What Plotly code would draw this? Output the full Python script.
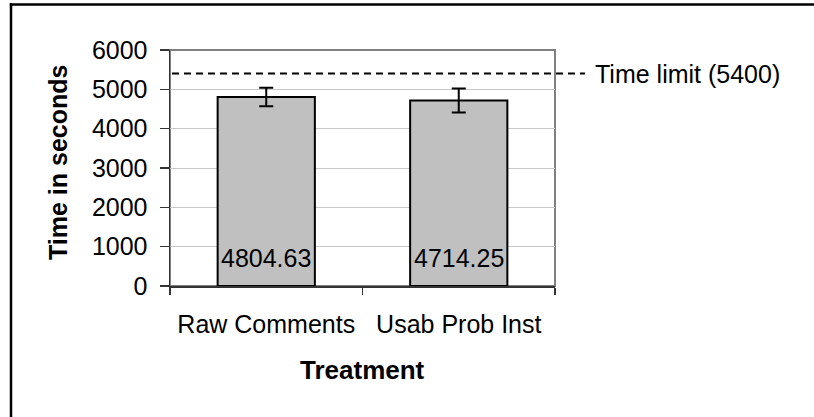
import plotly.graph_objects as go

categories = ["Raw Comments", "Usab Prob Inst"]
mean_times = [4804.63, 4714.25]
error_halfwidth = [235, 305]
bar_labels = ["4804.63", "4714.25"]
time_limit = 5400
time_limit_label = "Time limit (5400)"
y_ticks = [0, 1000, 2000, 3000, 4000, 5000, 6000]

FONT = "Liberation Sans, Arial, Helvetica, sans-serif"
W, H = 814, 417
L, R, T, B = 170, 259, 50, 131
pw, ph = W - L - R, H - T - B

def px_x(p):
    return (p - L) / pw

def px_y(p):
    return (H - B - p) / ph

fig = go.Figure()
fig.add_trace(go.Bar(
    x=categories, y=mean_times,
    marker=dict(color="#c0c0c0", line=dict(color="black", width=2)),
    error_y=dict(type="data", array=error_halfwidth, visible=True,
                 color="black", thickness=2, width=7),
    width=0.505, showlegend=False, hoverinfo="skip",
))

annotations = []
for c, lab in zip(categories, bar_labels):
    annotations.append(dict(x=c, y=0, xref="x", yref="y", text=lab,
                            showarrow=False, yanchor="middle", yshift=28,
                            font=dict(family=FONT, size=25, color="black")))
annotations.append(dict(x=px_x(593), y=time_limit, xref="paper", yref="y",
                        text=time_limit_label, showarrow=False,
                        xanchor="left", yanchor="middle",
                        font=dict(family=FONT, size=25, color="black")))
annotations.append(dict(x=0.5, y=px_y(370), xref="paper", yref="paper",
                        text="<b>Treatment</b>", showarrow=False,
                        xanchor="center", yanchor="middle",
                        font=dict(family=FONT, size=26, color="black")))
annotations.append(dict(x=px_x(58), y=px_y(163), xref="paper", yref="paper",
                        text="<b>Time in seconds</b>", showarrow=False,
                        textangle=-90, xanchor="center", yanchor="middle",
                        font=dict(family=FONT, size=25, color="black")))

shapes = [
    # plot frame (gray, top and right)
    dict(type="rect", xref="paper", yref="paper", x0=0, x1=1, y0=0, y1=1,
         line=dict(color="#808080", width=2), layer="below"),
    # time limit dashed line
    dict(type="line", xref="paper", yref="y", x0=px_x(172), x1=px_x(585),
         y0=time_limit, y1=time_limit,
         line=dict(color="black", width=2, dash="7px,5px")),
    # outer chart border (left and top visible)
    dict(type="line", xref="paper", yref="paper", x0=px_x(11), x1=px_x(11),
         y0=px_y(3.3), y1=px_y(420), line=dict(color="black", width=2.5)),
    dict(type="line", xref="paper", yref="paper", x0=px_x(9.8), x1=px_x(830),
         y0=px_y(4.6), y1=px_y(4.6), line=dict(color="black", width=2.5)),
]

fig.update_layout(
    width=W, height=H,
    margin=dict(l=L, r=R, t=T, b=B, pad=0),
    paper_bgcolor="white", plot_bgcolor="white",
    font=dict(family=FONT, size=25, color="black"),
    annotations=annotations, shapes=shapes,
    bargap=0.495,
)
fig.update_xaxes(
    type="category", showgrid=False, showline=True, linecolor="#333333",
    linewidth=2, ticks="outside", ticklen=7, tickwidth=1.5, tickcolor="#333333",
    tickson="boundaries", tickfont=dict(family=FONT, size=25, color="black"),
    ticklabelstandoff=15, zeroline=False,
)
fig.update_yaxes(
    range=[0, 6000], tickvals=y_ticks, ticktext=[str(v) for v in y_ticks],
    showgrid=True, gridcolor="#c8c8c8", gridwidth=1,
    showline=True, linecolor="#333333", linewidth=1.5,
    ticks="outside", ticklen=9, tickwidth=1.5, tickcolor="#333333",
    tickfont=dict(family=FONT, size=25, color="black"),
    ticklabelstandoff=7, zeroline=False,
)

fig.write_html(
    "out.html",
    config={"displayModeBar": False, "staticPlot": True},
    post_script="document.body.style.margin='0';document.body.style.overflow='hidden';",
)
